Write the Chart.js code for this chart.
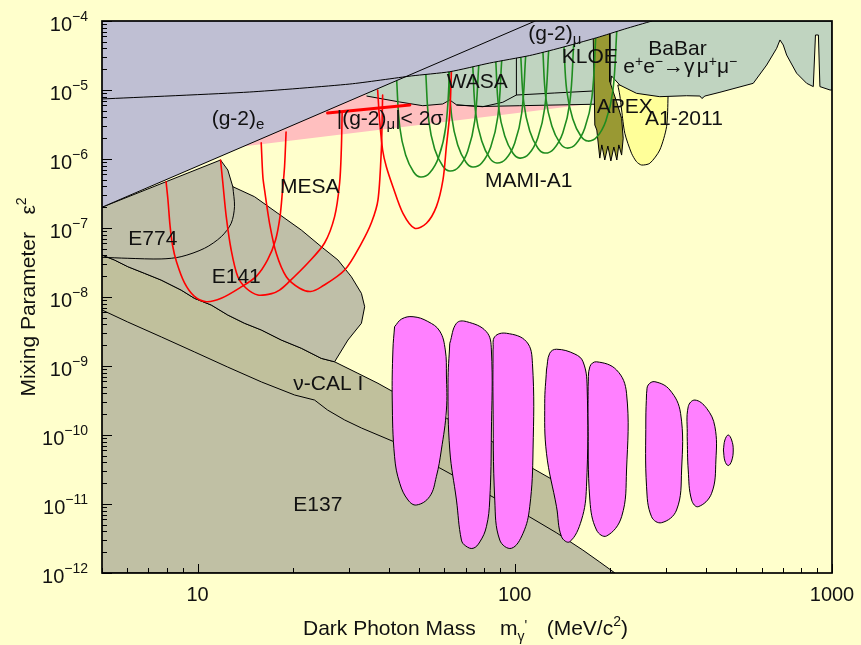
<!DOCTYPE html>
<html><head><meta charset="utf-8">
<script src="https://cdn.jsdelivr.net/npm/chart.js"></script>
<style>html,body{margin:0;padding:0;background:#ffffcc;}</style>
</head><body>
<canvas id="c" width="861" height="645"></canvas>
<script>
// ---------- values: [mass (MeV/c^2), epsilon^2] ----------
const gm2eLine = [[5,2.0e-7],[116,1e-4]];
const gm2muLine = [[5,7.41e-6],[14.6,9.35e-6],[30.2,1.22e-5],[47.3,1.60e-5],[62.4,1.84e-5],[83.4,2.46e-5],[111.5,3.16e-5],[138.7,4.06e-5],[181.4,5.73e-5],[222,7.65e-5],[270.6,1e-4]];
const gm2muBandLower = [[13.87,1.52e-6],[111.5,4.88e-6],[176.2,6.37e-6]];
const nuCalEdge = [[5,4.06e-8],[5.47,3.44e-8],[6.03,2.75e-8],[6.81,2.20e-8],[7.68,1.76e-8],[8.88,1.26e-8],[9.78,9.57e-9],[11.05,7.65e-9],[12.46,5.48e-9],[14.07,4.16e-9],[15.88,3.33e-9],[18.37,2.38e-9],[21.24,1.81e-9],[24.56,1.29e-9],[27.05,1.15e-9],[32.04,7.83e-10],[37.06,5.61e-10],[41.3,4.25e-10],[60.9,1.75e-10],[83.4,8.47e-11],[111.5,3.47e-11],[132.1,2.23e-11],[136.6,9.67e-12],[138.6,4.2e-12],[149.2,2.91e-12]];
const e137Edge = [[5,6.49e-9],[6.02,4.35e-9],[7.70,2.63e-9],[9.78,1.60e-9],[12.44,9.67e-10],[15.92,5.86e-10],[20.23,3.80e-10],[23.39,3.21e-10],[25.7,2.30e-10],[29.1,1.65e-10],[32.9,1.26e-10],[41.8,7.92e-11],[58.0,3.33e-11],[77.6,1.60e-11],[111.5,6.49e-12],[135.7,3.80e-12],[163.9,2.15e-12],[185.4,1.44e-12],[206.9,1e-12]];
const e141Edge = [[5,2.0e-7],[11.82,9.67e-7],[12.46,6.93e-7],[12.92,3.97e-7],[15.13,2.84e-7],[17.92,1.63e-7],[21.24,9.35e-8],[24.56,5.36e-8],[27.71,3.44e-8],[30.54,1.97e-8],[32.86,1.13e-8],[33.65,7.23e-9],[32.86,4.16e-9],[29.8,2.38e-9],[27.05,1.15e-9]];
const e774Edge = [[12.92,3.97e-7],[13.08,2.04e-7],[12.77,1.17e-7],[11.88,7.48e-8],[10.52,5.08e-8],[8.88,3.84e-8],[7.68,3.56e-8],[6.03,3.64e-8],[5,3.76e-8]];
const a1Region = [[211.3,1.18e-5],[303.9,1.18e-5],[304.2,8.0e-6],[301,2.94e-6],[286.5,1.35e-6],[266.6,8.67e-7],[251,8.18e-7],[242,9.14e-7],[233.4,1.21e-6],[222.3,2.36e-6],[217.2,5.13e-6],[214.3,8.46e-6],[211.3,1.18e-5]];
const greenRegion = [[34.1,8.18e-6],[43.4,6.70e-6],[51.3,5.92e-6],[59.3,6.27e-6],[62.4,7.16e-6],[65.6,6.07e-6],[79.3,5.77e-6],[103.7,5.92e-6],[176.2,6.21e-6],[197.9,6.27e-6],[201.8,1.60e-5],[214.3,1.18e-5],[242,8.95e-6],[286.5,8.0e-6],[348,8.26e-6],[383.4,8.18e-6],[389,7.53e-6],[397.6,8.18e-6],[443.4,9.27e-6],[564.6,1.25e-5],[622.3,2.30e-5],[669.2,4.02e-5],[685.5,5.31e-5],[702,4.49e-5],[719.5,3.21e-5],[773.6,1.75e-5],[832,1.25e-5],[873,1.12e-5],[887,6.27e-5],[906,6.27e-5],[916,1.12e-5],[986,1e-5],[1000,1e-5],[1000,1e-4],[34.1,1e-4]];
const wasaEdge = [[65.6,6.07e-6],[79.3,5.72e-6],[91.7,6.64e-6],[101.2,8.46e-6],[101.2,3.01e-5]];
const kloeEdge = [[101.2,8.46e-6],[133.7,9.05e-6],[176.2,9.67e-6]];
const apexRegion = [[176.6,7.4e-5],[199.4,7.4e-5],[199.4,1.32e-5],[209.4,6.77e-6],[217.2,3.89e-6],[219.7,2.0e-6],[217.2,1.14e-6],[212.8,1.60e-6],[209.8,9.67e-7],[205.3,1.49e-6],[200.9,9.36e-7],[196.6,1.54e-6],[192.2,9.67e-7],[188.1,1.60e-6],[185.4,1.03e-6],[181.4,2.63e-6],[178.8,3.11e-6],[176.6,7.4e-5]];
const mamiA1 = [
 [[42.4,1.49e-5],[43.4,2.91e-6],[45.3,1.14e-6],[48.0,6.49e-7],[50.5,5.48e-7],[53.9,6.27e-7],[57.6,1.07e-6],[60.6,2.91e-6],[62.4,1.95e-5]],
 [[52.4,1.82e-5],[53.6,3.56e-6],[55.9,1.40e-6],[59.3,7.92e-7],[62.4,6.70e-7],[66.6,7.65e-7],[71.1,1.31e-6],[74.8,3.56e-6],[77.0,2.23e-5]],
 [[61.9,1.95e-5],[63.3,4.06e-6],[66.1,1.60e-6],[70.1,9.05e-7],[73.7,7.65e-7],[78.7,8.75e-7],[84.0,1.49e-6],[88.4,4.06e-6],[91.0,2.72e-5]],
 [[73.7,2.30e-5],[75.3,4.64e-6],[78.7,1.82e-6],[83.4,1.03e-6],[87.8,8.75e-7],[93.7,1.0e-6],[100,1.71e-6],[105.2,4.64e-6],[108.3,3.21e-5]],
 [[87.1,2.72e-5],[89.0,5.48e-6],[93.0,2.15e-6],[98.6,1.22e-6],[103.7,1.03e-6],[110.7,1.18e-6],[118.2,2.02e-6],[124.3,5.48e-6],[128.0,3.93e-5]],
 [[104.4,3.21e-5],[106.8,6.49e-6],[111.5,2.55e-6],[118.2,1.44e-6],[124.3,1.22e-6],[132.7,1.40e-6],[141.7,2.38e-6],[149.1,6.49e-6],[153.5,4.80e-5]],
 [[122.6,3.80e-5],[125.3,7.65e-6],[130.9,3.01e-6],[138.7,1.71e-6],[145.9,1.44e-6],[155.8,1.65e-6],[166.3,2.81e-6],[175.0,7.65e-6],[180.1,6.06e-5]],
 [[142.8,4.49e-5],[145.9,9.67e-6],[152.4,3.80e-6],[161.5,2.15e-6],[170.0,1.82e-6],[181.4,2.08e-6],[193.7,3.56e-6],[203.8,9.67e-6],[209.8,7.41e-5]]
];
const mesa = [
 [[7.96,4.69e-7],[8.07,2.55e-7],[8.19,1.1e-7],[8.34,5.67e-8],[8.59,3.21e-8],[9.10,1.60e-8],[9.78,1.02e-8],[10.65,8.55e-9],[11.88,9.57e-9],[13.74,1.40e-8],[15.35,2.01e-8],[16.63,3.44e-8],[17.62,6.70e-8],[18.20,1.46e-7],[18.54,3.56e-7],[18.81,7.73e-7],[19.02,2.46e-6]],
 [[11.82,9.67e-7],[12.02,4.49e-7],[12.32,1.46e-7],[12.77,4.80e-8],[13.40,1.97e-8],[14.24,1.34e-8],[15.50,1.07e-8],[17.12,1.12e-8],[18.14,1.26e-8],[19.27,1.60e-8],[22.28,3.11e-8],[25.15,6.06e-8],[27.05,1.46e-7],[28.05,4.45e-7],[28.40,1.35e-6],[28.57,4.64e-6]],
 [[15.88,1.71e-6],[16.07,5.54e-7],[16.27,3.56e-7],[16.87,1.17e-7],[17.71,4.30e-8],[19.05,1.97e-8],[20.98,1.34e-8],[22.73,1.20e-8],[24.56,1.40e-8],[29.1,2.46e-8],[32.86,6.0e-8],[35.4,1.22e-7],[37.06,2.55e-7],[37.97,1.35e-6],[38.19,3.67e-6],[38.33,8.46e-6]],
 [[36.97,1e-5],[37.5,3.67e-6],[38.33,1.35e-6],[39.38,7.73e-7],[41.3,3.97e-7],[44.43,1.63e-7],[48.37,9.9e-8],[52.68,1.17e-7],[56.62,2.04e-7],[59.39,4.97e-7],[60.87,1.51e-6],[62.4,4.59e-6],[63.14,1.82e-5]]
];
const mesaBar = [[25.7,4.64e-6],[46.7,6.07e-6]];
const futureIslands = [
 [[41.8,3.71e-9],[44.0,4.80e-9],[47.8,5.18e-9],[53.2,4.42e-9],[58.0,3.21e-9],[60.4,1.71e-9],[60.9,7.41e-10],[60.9,2.30e-10],[58.7,6.07e-11],[56.6,2.49e-11],[53.9,1.28e-11],[49.0,9.67e-12],[46.1,1.14e-11],[43.4,2.0e-11],[41.8,4.85e-11],[41.1,3.21e-10],[41.3,1.71e-9],[41.8,3.71e-9]],
 [[62.4,2.13e-9],[65.5,4.16e-9],[70.4,4.40e-9],[81.4,3.14e-9],[84.4,1.71e-9],[84.4,1.07e-10],[83.4,1.14e-11],[81.4,4.69e-12],[77.6,2.82e-12],[73.9,2.28e-12],[70.1,2.46e-12],[67.9,3.0e-12],[65.5,1.14e-11],[62.4,6.07e-11],[61.6,5.61e-10],[62.4,2.13e-9]],
 [[85.4,1.71e-9],[86.5,2.66e-9],[94.2,2.98e-9],[108.9,2.25e-9],[113.7,1.09e-9],[114.2,6.07e-11],[111.5,9.14e-12],[106.2,3.76e-12],[97.6,2.28e-12],[89.7,3.0e-12],[86.5,1.14e-11],[85.4,3.21e-10],[85.4,1.71e-9]],
 [[125.9,8.75e-10],[128.9,1.53e-9],[135.4,1.75e-9],[154.7,1.49e-9],[164.2,1.15e-9],[169.1,5.01e-10],[168.3,1.78e-11],[162.3,5.86e-12],[149.1,2.84e-12],[140.4,3.36e-12],[135.4,9.14e-12],[125.9,5.43e-11],[124.3,2.88e-10],[125.9,8.75e-10]],
 [[170.3,5.01e-10],[172.5,9.77e-10],[181.0,1.15e-9],[209.4,8.75e-10],[225.1,4.02e-10],[225.1,3.11e-11],[217.2,6.55e-12],[194.7,3.44e-12],[181.0,4.2e-12],[172.5,1.14e-11],[170.3,1.65e-10],[170.3,5.01e-10]],
 [[260.3,4.02e-10],[263.4,5.31e-10],[276.5,5.92e-10],[308.3,4.49e-10],[333.2,2.06e-10],[335.7,3.11e-11],[323.6,8.18e-12],[290.3,5.36e-12],[269.9,6.55e-12],[260.3,1.78e-11],[258.9,1.65e-10],[260.3,4.02e-10]],
 [[349.6,9.45e-11],[352.2,2.57e-10],[369.8,3.21e-10],[402.5,2.44e-10],[427.5,1.32e-10],[430.6,4.35e-11],[417.4,1.43e-11],[378.7,9.14e-12],[361.0,1.14e-11],[352.2,3.11e-11],[349.6,9.45e-11]],
 [[454.7,6.07e-11],[459.7,8.47e-11],[470.9,1e-10],[482.6,8.47e-11],[488.3,6.07e-11],[482.6,4.20e-11],[470.9,3.61e-11],[459.7,4.20e-11],[454.7,6.07e-11]]
];
const xTickValues = [10, 100, 1000];
const xTickLabels = ['10', '100', '1000'];
const yTickExponents = [-12, -11, -10, -9, -8, -7, -6, -5, -4];
const xMin = 5, xMax = 1000, yMin = 1e-12, yMax = 1e-4;
const TOP = 1e-4, BOTTOM = 1e-12, LEFT = 5;

// ---------- build datasets (bottom layer first) ----------
const FONT = '"Liberation Sans", Arial, Helvetica, sans-serif';
const P = a => a.map(p => ({x: p[0], y: p[1]}));
const sets = [];
function area(d, fillC, lineC, lw, t) {
  sets.push({data: P(d), fill: 'shape', backgroundColor: fillC, borderColor: lineC || 'rgba(0,0,0,0)',
    borderWidth: lw || 0, tension: t || 0, pointRadius: 0, borderJoinStyle: 'round'});
}
function curve(d, c, lw, t) {
  sets.push({data: P(d), fill: false, borderColor: c, backgroundColor: c, borderWidth: lw,
    tension: t || 0, pointRadius: 0, borderJoinStyle: 'round', borderCapStyle: 'round'});
}
area([...nuCalEdge, [LEFT, BOTTOM]], '#c0c09c', '#000', 1);
area([...e137Edge, [LEFT, BOTTOM]], '#c0c0a4', '#000', 1);
area([...e141Edge, ...nuCalEdge.slice(0, 14).reverse()], '#bfbfa8', '#000', 1);
curve(e774Edge, '#000', 1, 0.3);
area([...gm2muBandLower, [gm2muBandLower[2][0], 2.72e-5], [47.3, 2.72e-5]], '#ffbfbf');
area(a1Region, '#ffff99', '#000', 1, 0.25);
area(greenRegion, '#c0d4c0', '#000', 1);
curve(wasaEdge, '#000', 1);
curve(kloeEdge, '#000', 1);
area(apexRegion, '#999933', '#000', 1);
mamiA1.forEach(c => curve(c, '#1f8c1f', 1.6, 0.4));
mesa.forEach(c => curve(c, '#ff0000', 1.6, 0.3));
curve(mesaBar, '#ff0000', 3);
futureIslands.forEach(c => area(c, '#ff80ff', '#000', 1, 0.4));
area([...gm2eLine, [LEFT, TOP]], '#bfbfd3');
area([...gm2muLine, [LEFT, TOP]], '#bfbfd3');
curve(gm2eLine, '#000', 1);
curve(gm2muLine, '#000', 1, 0.2);
sets.forEach((s, i) => { s.order = sets.length - i; });

// ---------- text helper ----------
function rich(ctx, x, y, parts, align) {
  let w = 0;
  parts.forEach(p => { ctx.font = p[1] + 'px ' + FONT; w += ctx.measureText(p[0]).width; });
  let cx = align === 'right' ? x - w : (align === 'center' ? x - w / 2 : x);
  parts.forEach(p => {
    ctx.font = p[1] + 'px ' + FONT;
    ctx.fillText(p[0], cx, y + (p[2] || 0));
    cx += ctx.measureText(p[0]).width;
  });
}
const regionLabels = [
  [211.7, 125, [['(g-2)', 21], ['e', 15, 4]]],
  [528.3, 40, [['(g-2)', 21], ['μ', 15, 4]]],
  [336.7, 125, [['|(g-2)', 21], ['μ', 15, 4], ['|< 2σ', 21]]],
  [280, 193, [['MESA', 21]]],
  [128.3, 245, [['E774', 21]]],
  [211.7, 283, [['E141', 21]]],
  [293.3, 390, [['ν-CAL I', 21]]],
  [293.3, 511, [['E137', 21]]],
  [485, 186.7, [['MAMI-A1', 21]]],
  [446.7, 88, [['WASA', 21]]],
  [561.7, 63, [['KLOE', 21]]],
  [648.3, 55, [['BaBar', 21]]],
  [623.3, 73.3, [['e', 21], ['+', 14, -7], ['e', 21], ['−', 14, -7], ['→', 21], ['γ', 21], [' ', 8], ['μ', 21], ['+', 14, -7], ['μ', 21], ['−', 14, -7]]],
  [596.7, 113, [['APEX', 21]]],
  [645, 125, [['A1-2011', 21]]]
];

const deco = {
  id: 'deco',
  beforeDraw(c) {
    const ctx = c.ctx; ctx.save(); ctx.fillStyle = '#ffffcc'; ctx.fillRect(0, 0, c.width, c.height); ctx.restore();
  },
  afterDraw(c) {
    const ctx = c.ctx, a = c.chartArea, xs = c.scales.x, ys = c.scales.y;
    ctx.save();
    ctx.strokeStyle = '#000'; ctx.lineWidth = 1;
    for (const e of yTickExponents) {
      for (let k = 1; k <= 9; k++) {
        if (e === -4 && k > 1) break;
        const py = Math.round(ys.getPixelForValue(k * Math.pow(10, e))) + 0.5;
        ctx.beginPath(); ctx.moveTo(a.left, py); ctx.lineTo(a.left + (k === 1 ? 10 : 5), py); ctx.stroke();
      }
    }
    for (let e = 0; e <= 3; e++) {
      for (let k = 1; k <= 9; k++) {
        const v = k * Math.pow(10, e);
        if (v < xMin || v > xMax) continue;
        const px = Math.round(xs.getPixelForValue(v)) + 0.5;
        ctx.beginPath(); ctx.moveTo(px, a.bottom); ctx.lineTo(px, a.bottom - (k === 1 ? 9 : 5)); ctx.stroke();
      }
    }
    ctx.lineWidth = 1.7;
    ctx.strokeRect(a.left, a.top, a.right - a.left, a.bottom - a.top);
    ctx.fillStyle = '#111'; ctx.textBaseline = 'alphabetic';
    yTickExponents.forEach(e => {
      const py = ys.getPixelForValue(Math.pow(10, e));
      rich(ctx, a.left - 14, py + 10, [['10', 20], ['−' + Math.abs(e), 14, -10]], 'right');
    });
    xTickValues.forEach((v, i) => rich(ctx, xs.getPixelForValue(v), a.bottom + 28, [[xTickLabels[i], 20]], 'center'));
    // axis titles
    rich(ctx, 303, 635, [['Dark Photon Mass', 21]]);
    rich(ctx, 500, 635, [['m', 21], ['γ', 14, 6], ["'", 14, -5]]);
    rich(ctx, 546.7, 635, [['(MeV/c', 21], ['2', 14, -9], [')', 21]]);
    ctx.save(); ctx.translate(35, 297); ctx.rotate(-Math.PI / 2);
    rich(ctx, 0, 0, [['Mixing Parameter   ε', 21], ['2', 14, -9]], 'center');
    ctx.restore();
    regionLabels.forEach(l => rich(ctx, l[0], l[1], l[2]));
    ctx.restore();
  }
};

new Chart(document.getElementById('c'), {
  type: 'line',
  data: {datasets: sets},
  options: {
    responsive: false, animation: false, devicePixelRatio: 1, events: [],
    layout: {padding: {left: 102, right: 29, top: 21, bottom: 72}},
    scales: {
      x: {type: 'logarithmic', min: xMin, max: xMax, display: false, bounds: 'data'},
      y: {type: 'logarithmic', min: yMin, max: yMax, display: false, bounds: 'data'}
    },
    plugins: {legend: {display: false}, tooltip: {enabled: false}, title: {display: false}},
    elements: {point: {radius: 0, hoverRadius: 0}}
  },
  plugins: [deco]
});
</script>
</body></html>
